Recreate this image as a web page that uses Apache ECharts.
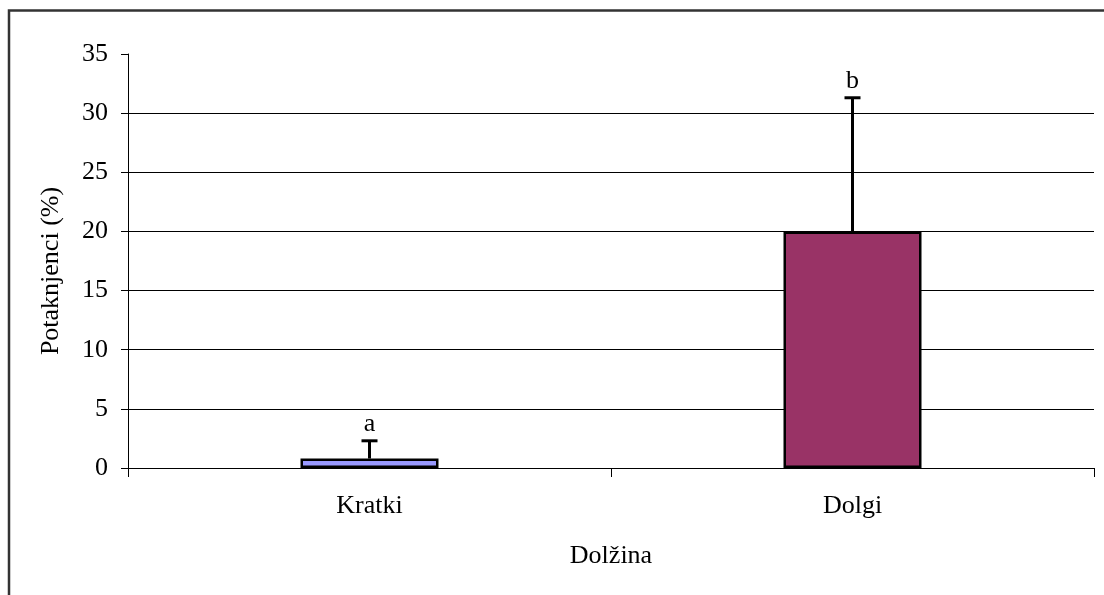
<!DOCTYPE html>
<html>
<head>
<meta charset="utf-8">
<script src="https://cdn.jsdelivr.net/npm/echarts@6/dist/echarts.min.js"></script>
<style>
html,body{margin:0;padding:0;background:#fff;overflow:hidden;}
#chart{width:1104px;height:595px;}
</style>
</head>
<body>
<div id="chart"></div>
<script>
// Delež potaknjencev glede na dolžino
const categories = ['Kratki', 'Dolgi'];
const values = [0.8, 20];
const errors = [1.5, 11.3];
const letters = ['a', 'b'];
const barColors = ['#9999FF', '#993366'];
const yTicks = [0, 5, 10, 15, 20, 25, 30, 35];

const serif = '"Liberation Serif", "DejaVu Serif", serif';
const fs = 26;
const chart = echarts.init(document.getElementById('chart'));

chart.setOption({
  animation: false,
  backgroundColor: '#fff',
  graphic: [{
    type: 'rect',
    shape: { x: 9, y: 10.5, width: 1200, height: 700 },
    style: { fill: 'none', stroke: '#333', lineWidth: 2.5 },
    silent: true
  }],
  grid: { left: 128, right: 10, top: 54, bottom: 127, containLabel: false, outerBoundsMode: 'none' },
  xAxis: {
    type: 'category',
    data: categories,
    name: 'Dolžina',
    nameLocation: 'middle',
    nameGap: 75,
    nameTextStyle: { fontFamily: serif, fontSize: fs, color: '#000' },
    axisLine: { lineStyle: { color: '#000', width: 1 } },
    axisTick: { show: true, length: 9, lineStyle: { color: '#000' } },
    axisLabel: { fontFamily: serif, fontSize: fs, color: '#000', margin: 25 },
    splitLine: { show: false }
  },
  yAxis: {
    type: 'value',
    min: yTicks[0],
    max: yTicks[yTicks.length - 1],
    interval: 5,
    name: 'Potaknjenci (%)',
    nameLocation: 'middle',
    nameGap: 64,
    nameRotate: 90,
    nameTextStyle: { fontFamily: serif, fontSize: fs, color: '#000', padding: [0, 20, 0, 0] },
    axisLine: { show: true, lineStyle: { color: '#000', width: 1 } },
    axisTick: { show: true, length: 7, lineStyle: { color: '#000' } },
    axisLabel: { fontFamily: serif, fontSize: fs, color: '#000', margin: 20 },
    splitLine: { show: true, showMaxLine: false, lineStyle: { color: '#000', width: 1 } }
  },
  series: [
    {
      type: 'bar',
      barWidth: 138,
      data: values.map((v, i) => ({
        value: v,
        itemStyle: { color: barColors[i], borderColor: '#000', borderWidth: 2.5 }
      })),
      z: 2
    },
    {
      type: 'custom',
      z: 3,
      data: values.map((v, i) => [i, v, v + errors[i], letters[i]]),
      renderItem: function (params, api) {
        const base = api.coord([api.value(0), api.value(1)]);
        const top = api.coord([api.value(0), api.value(2)]);
        const half = 8;
        return {
          type: 'group',
          children: [
            { type: 'line', shape: { x1: base[0], y1: base[1], x2: top[0], y2: top[1] },
              style: { stroke: '#000', lineWidth: 3 } },
            { type: 'line', shape: { x1: top[0] - half, y1: top[1], x2: top[0] + half, y2: top[1] },
              style: { stroke: '#000', lineWidth: 3 } },
            { type: 'text', x: top[0], y: top[1] - 4,
              style: { text: api.value(3), fontFamily: serif, fontSize: fs, fill: '#000',
                       align: 'center', verticalAlign: 'bottom' } }
          ]
        };
      }
    }
  ]
});
</script>
</body>
</html>
